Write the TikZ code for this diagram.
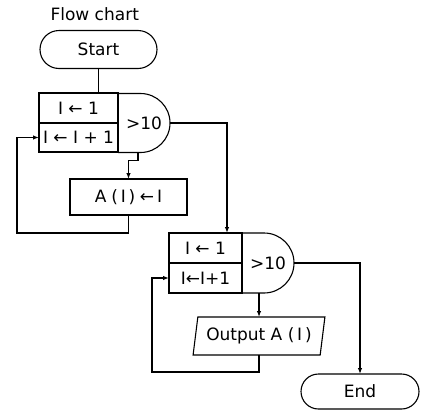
\documentclass[tikz,border=0pt]{standalone}
\usepackage{fontspec}
\setmainfont{DejaVu Sans}
\usetikzlibrary{shapes.geometric, shapes.misc, arrows.meta}

\begin{document}
\begin{tikzpicture}[x=1pt, y=-1pt,
    box/.style={draw, line width=1.1pt, inner sep=0pt, outer sep=0pt, text centered, font=\fontsize{17}{19}\selectfont},
    term/.style={box, rounded rectangle},
    test/.style={box, draw=none, minimum width=52pt, anchor=west},
    io/.style={box, trapezium, trapezium left angle=76, trapezium right angle=104, trapezium stretches=true},
    flow/.style={line width=1.1pt, -{Latex[length=6pt, width=4.5pt]}},
    plain/.style={line width=1.1pt}
]
    \useasboundingbox (0,0) rectangle (423,410);

    % Title and start
    \node[font=\fontsize{17}{19}\selectfont, anchor=west] (title) at (47,14) {Flow chart};
    \node[term, minimum width=117pt, minimum height=38pt] (start) at (98.5,49.5) {Start};

    % First loop
    \node[box, minimum width=79pt, minimum height=30pt] (init1) at (78.5,108) {I ← 1};
    \node[box, minimum width=79pt, minimum height=29pt] (incr1) at (78.5,137.5) {I ← I + 1};
    \node[test, minimum height=59pt] (test1) at (init1.south east) {>10};
    \draw[plain] (test1.north west) -- ([xshift=-29.5pt]test1.north east)
        arc[start angle=90, end angle=-90, radius=29.5pt] -- (test1.south west);
    \node[box, minimum width=117pt, minimum height=36pt] (assign) at (128.5,197) {A\;(\,I\,)\;←\,I};

    % Second loop
    \node[box, minimum width=73pt, minimum height=30pt] (init2) at (205.5,248) {I ← 1};
    \node[box, minimum width=73pt, minimum height=30pt] (incr2) at (205.5,278) {I←I+1};
    \node[test, minimum height=60pt] (test2) at (init2.south east) {>10};
    \draw[plain] (test2.north west) -- ([xshift=-30pt]test2.north east)
        arc[start angle=90, end angle=-90, radius=30pt] -- (test2.south west);
    \node[io, minimum width=132pt, minimum height=38pt] (output) at (259,336) {Output A (\,I\,)};

    % End
    \node[term, minimum width=118pt, minimum height=35pt] (end) at (360,391.5) {End};

    % Connectors
    \draw[plain] (start.south) -- (start.south |- init1.north);
    \draw[flow] ([xshift=-6pt]test1.south) -- ++(0,8) -| (assign.north);
    \draw[flow] (assign.south) -- ++(0,18) -| ([xshift=-22pt]incr1.west) -- (incr1.west);
    \draw[flow] (test1.east) -| ([xshift=-15pt]init2.north east);
    \draw[flow] (test2.south -| output.north) -- (output.north);
    \draw[flow] (output.south) -- ++(0,17) -| ([xshift=-17pt]incr2.west) -- (incr2.west);
    \draw[flow] (test2.east) -| (end.north);
\end{tikzpicture}
\end{document}
